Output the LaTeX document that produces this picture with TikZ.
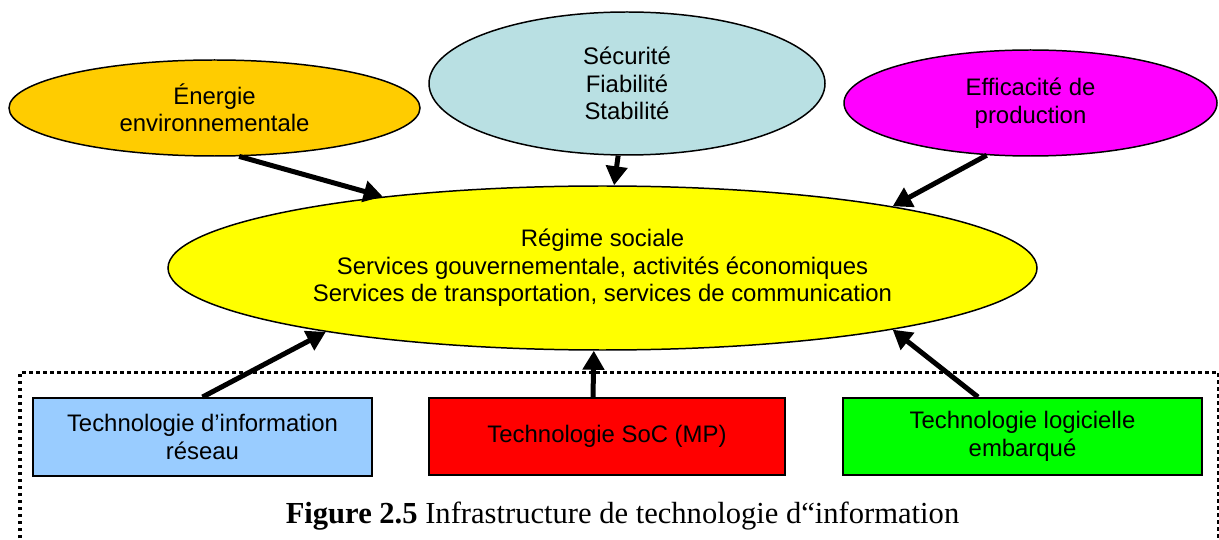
\documentclass[tikz,border=0pt]{standalone}
\usepackage{fontspec}
\setmainfont{Liberation Sans}
\newfontfamily\capfont{Liberation Serif}
\usetikzlibrary{shapes.geometric,arrows.meta}

\definecolor{orangeE}{HTML}{FFCC00}
\definecolor{blueE}{HTML}{B9E0E3}
\definecolor{magentaE}{HTML}{FF00FF}
\definecolor{yellowE}{HTML}{FFFF00}
\definecolor{blueB}{HTML}{99CCFF}
\definecolor{redB}{HTML}{FF0000}
\definecolor{greenB}{HTML}{00FF00}

\tikzset{
  lbl/.style={font=\fontsize{13.6pt}{15.6pt}\selectfont, align=center, text=black},
  oval/.style={ellipse, draw=black, line width=0.85pt, inner sep=0pt, lbl},
  techbox/.style={rectangle, draw=black, line width=1.1pt, inner sep=0pt, lbl},
  conn/.style={line width=0.1cm, -{Triangle[length=0.38cm,width=0.42cm]}},
  frame/.style={line width=0.066cm, dash pattern=on 0.07cm off 0.07cm}
}

\begin{document}
\begin{tikzpicture}[x=0.02cm, y=-0.02cm]
  \useasboundingbox (0,0) rectangle (1219,540);
  \clip (0,0) rectangle (1219,540);

  % surrounding dotted frame (open at the bottom)
  \draw[frame] (20,545) -- (20,372.5) -- (1218.5,372.5) -- (1218.5,545);

  % goals on top
  \node[oval, fill=orangeE, minimum width=411*0.02cm, minimum height=96*0.02cm]
    (energie) at (214.5,108) {Énergie\\environnementale};
  \node[oval, fill=blueE, minimum width=396*0.02cm, minimum height=143*0.02cm]
    (securite) at (627,83.5) {Sécurité\\Fiabilité\\Stabilité};
  \node[oval, fill=magentaE, minimum width=373*0.02cm, minimum height=106*0.02cm]
    (efficacite) at (1030.5,103) {Efficacité de\\production};

  % society in the middle
  \node[oval, fill=yellowE, minimum width=869*0.02cm, minimum height=164*0.02cm]
    (societe) at (602.5,268) {Régime sociale\\Services gouvernementale, activités économiques\\Services de transportation, services de communication};

  % technologies at the bottom
  \node[techbox, fill=blueB, minimum width=339*0.02cm, minimum height=78*0.02cm]
    (reseau) at (202.5,437) {Technologie d’information\\réseau};
  \node[techbox, fill=redB, minimum width=356*0.02cm, minimum height=77*0.02cm]
    (soc) at (607,436.5) {Technologie SoC (MP)};
  \node[techbox, fill=greenB, minimum width=359*0.02cm, minimum height=77*0.02cm]
    (logiciel) at (1022.5,436.5) {Technologie logicielle\\embarqué};

  % connectors
  \draw[conn] (energie.-63.4) -- (societe.162.3);
  \draw[conn] (securite.-97) -- (societe.82.9);
  \draw[conn] (efficacite.-130.6) -- (societe.12.4);
  \draw[conn] (reseau.north) -- (societe.-167.7);
  \draw[conn] ([xshift=-0.28cm]soc.north) -- (societe.-96.5);
  \draw[conn] ([xshift=-0.89cm]logiciel.north) -- (societe.-12.4);

  % caption
  \node[anchor=base, inner sep=0pt, font=\capfont\fontsize{17.4pt}{20pt}\selectfont]
    (caption) at (622.5,523) {\textbf{Figure 2.5} Infrastructure de technologie d“information};
\end{tikzpicture}
\end{document}
